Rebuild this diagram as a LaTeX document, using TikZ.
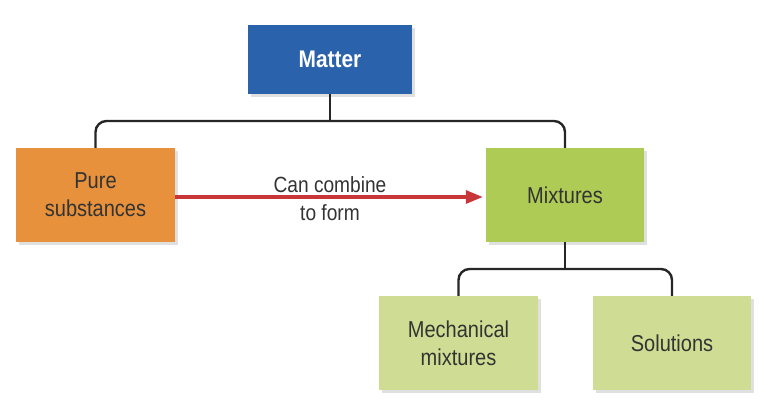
\documentclass[tikz,border=0pt]{standalone}
\usepackage{fontspec}
\setmainfont{Liberation Sans}[FakeStretch=0.87]
\usetikzlibrary{shadows,arrows.meta}
\definecolor{matterblue}{HTML}{2A63AC}
\definecolor{pureorange}{HTML}{E8913C}
\definecolor{mixgreen}{HTML}{AECB56}
\definecolor{subgreen}{HTML}{CEDD93}
\definecolor{arrowred}{HTML}{C9363A}
\definecolor{txt}{HTML}{333333}
\begin{document}
\begin{tikzpicture}[x=1pt,y=-1pt,
  box/.style={inner sep=0pt, align=center, text=txt,
    font=\fontsize{23}{28}\selectfont,
    drop shadow={shadow xshift=3pt, shadow yshift=-3pt, opacity=0.2, fill=black!60}},
  conn/.style={draw=black!85, line width=2.4pt},
  redarrow/.style={draw=arrowred, line width=3.2pt, -{Triangle[length=17pt,width=13pt]}}]
\useasboundingbox (0,0) rectangle (774,416);
\node[box, fill=matterblue, minimum width=164pt, minimum height=69pt, text=white,
  font=\fontsize{24}{28}\bfseries] (matter) at (330,59.5) {Matter};
\node[box, fill=pureorange, minimum width=159pt, minimum height=94pt] (pure) at (95.5,195) {Pure\\substances};
\node[box, fill=mixgreen, minimum width=158pt, minimum height=94pt] (mix) at (565,195) {Mixtures};
\node[box, fill=subgreen, minimum width=159pt, minimum height=94pt] (mech) at (458.5,343) {Mechanical\\mixtures};
\node[box, fill=subgreen, minimum width=158pt, minimum height=94pt] (sol) at (672,343) {Solutions};
\coordinate (j1) at (330,121);
\coordinate (j2) at (565,269);
\draw[conn] (matter.south) -- (j1);
\draw[conn, rounded corners=11pt] (pure.north) |- (j1) -| (mix.north);
\draw[conn] (mix.south) -- (j2);
\draw[conn, rounded corners=11pt] (mech.north) |- (j2) -| (sol.north);
\draw[redarrow, shorten >=3pt] ([yshift=-2pt]pure.east) -- ([yshift=-2pt]mix.west);
\node[align=center, text=txt, font=\fontsize{22}{28}\selectfont] (lbl) at (330,199) {Can combine\\to form};
\end{tikzpicture}
\end{document}
